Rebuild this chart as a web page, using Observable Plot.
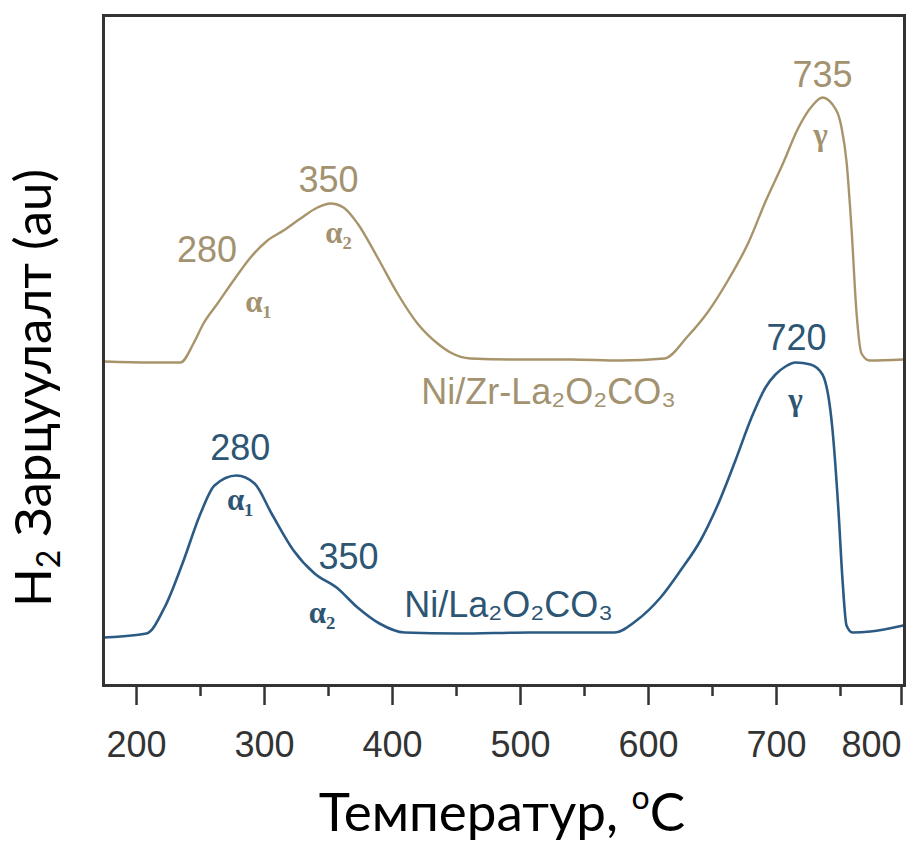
<!DOCTYPE html>
<html>
<head>
<meta charset="utf-8">
<script src="https://cdn.jsdelivr.net/npm/d3@7"></script>
<script src="https://cdn.jsdelivr.net/npm/@observablehq/plot@0.6"></script>
<style>
  html, body { margin: 0; padding: 0; background: #fff; }
  #chart { width: 908px; height: 845px; }
</style>
</head>
<body>
<div id="chart"></div>
<script>
// ---- data (temperature °C, H2 consumption in arbitrary units) ----
const tempZr = [175, 210.9, 234.4, 244.5, 252.3, 263.3, 275.8, 289.1, 302.3, 314.8, 328.1, 341.4, 351.6, 361.7, 372.7, 388.3, 403.9, 419.5, 435.2, 445.3, 460.9, 500, 539.1, 578.1, 612.5, 630.5, 646.1, 662.5, 678.1, 691.4, 704.7, 717.2, 728.1, 735.9, 743.8, 750.8, 754.7, 758.6, 762.5, 766.4, 772.7, 799];
const auZr   = [3.24, 3.23, 3.23, 3.42, 3.62, 3.82, 4.05, 4.28, 4.45, 4.55, 4.67, 4.78, 4.82, 4.78, 4.62, 4.28, 3.92, 3.62, 3.42, 3.33, 3.27, 3.26, 3.26, 3.25, 3.27, 3.49, 3.73, 4.06, 4.43, 4.84, 5.21, 5.58, 5.80, 5.88, 5.81, 5.58, 5.24, 4.57, 3.73, 3.32, 3.25, 3.26];

const tempLa = [175, 207.8, 221.9, 235.9, 250, 260.9, 278.1, 292.2, 305.5, 322.7, 339.1, 356.3, 372.7, 389.8, 409.4, 450.8, 507, 573.4, 590.6, 609.4, 625, 640.6, 653.9, 667.9, 680.5, 691.4, 699.2, 707, 714.8, 726.6, 735.9, 743.8, 748.4, 751.6, 754.7, 759.4, 773.4, 799];
const auLa   = [0.48, 0.52, 0.78, 1.22, 1.72, 2.00, 2.10, 2.02, 1.72, 1.35, 1.12, 0.98, 0.78, 0.62, 0.53, 0.52, 0.53, 0.53, 0.65, 0.88, 1.15, 1.45, 1.80, 2.25, 2.68, 2.98, 3.11, 3.19, 3.23, 3.21, 3.11, 2.55, 1.75, 1.05, 0.60, 0.53, 0.54, 0.60];

const xTicks = [200, 300, 400, 500, 600, 700];
const xLastTick = [800];
const xMinorTicks = [250, 350, 450, 550, 650, 750];

// annotation labels (anchored in data coordinates)
const numLabelsZr = [
  {t: 255,   v: 4.35, text: "280"},
  {t: 350,   v: 5.05, text: "350"},
  {t: 736,   v: 6.10, text: "735"}
];
const greekLabelsZr = [
  {t: 295.3, v: 3.83, text: "α₁"},
  {t: 357.8, v: 4.52, text: "α₂"},
  {t: 734.4, v: 5.50, text: "γ"}
];
const nameZr = [{t: 521.9, v: 2.93, text: "Ni/Zr-La₂O₂CO₃"}];

const numLabelsLa = [
  {t: 281,   v: 2.37, text: "280"},
  {t: 365.6, v: 1.28, text: "350"},
  {t: 715.6, v: 3.47, text: "720"}
];
const greekLabelsLa = [
  {t: 281,   v: 1.85, text: "α₁"},
  {t: 345,   v: 0.72, text: "α₂"},
  {t: 714.8, v: 2.85, text: "γ"}
];
const nameLa = [{t: 490.6, v: 0.80, text: "Ni/La₂O₂CO₃"}];

const GOLD = "#a8946a";
const GOLD_TXT = "#a39270";
const BLUE = "#2b5b84";
const BLUE_TXT = "#2d5574";
const SANS = "'Liberation Sans', Arial, sans-serif";
const SERIF = "'Liberation Serif', 'DejaVu Serif', serif";

const zr = tempZr.map((t, i) => ({t, v: auZr[i]}));
const la = tempLa.map((t, i) => ({t, v: auLa[i]}));

const plot = Plot.plot({
  width: 908,
  height: 845,
  marginLeft: 103,
  marginRight: 4,
  marginTop: 15,
  marginBottom: 160,
  style: {fontFamily: SANS, background: "#fff"},
  x: {domain: [174.2, 800]},
  y: {domain: [0, 6.7]},
  marks: [
    Plot.line(zr, {x: "t", y: "v", stroke: GOLD, strokeWidth: 2.4, curve: "monotone-x"}),
    Plot.line(la, {x: "t", y: "v", stroke: BLUE, strokeWidth: 2.6, curve: "monotone-x"}),
    Plot.text(numLabelsZr, {x: "t", y: "v", text: "text", fill: GOLD_TXT, fontSize: 36, fontFamily: SANS}),
    Plot.text(greekLabelsZr, {x: "t", y: "v", text: "text", fill: GOLD_TXT, fontSize: 31, fontFamily: SERIF, fontWeight: "bold"}),
    Plot.text(nameZr, {x: "t", y: "v", text: "text", fill: GOLD_TXT, fontSize: 36, fontFamily: SANS}),
    Plot.text(numLabelsLa, {x: "t", y: "v", text: "text", fill: BLUE_TXT, fontSize: 36, fontFamily: SANS}),
    Plot.text(greekLabelsLa, {x: "t", y: "v", text: "text", fill: BLUE_TXT, fontSize: 31, fontFamily: SERIF, fontWeight: "bold"}),
    Plot.text(nameLa, {x: "t", y: "v", text: "text", fill: BLUE_TXT, fontSize: 36, fontFamily: SANS}),
    Plot.axisX({ticks: xTicks, tickSize: 20, tickPadding: 26, strokeWidth: 2.5, color: "#333", fontSize: 36, label: null, tickFormat: d => String(d)}),
    Plot.axisX({ticks: xLastTick, tickSize: 20, tickPadding: 26, strokeWidth: 2.5, color: "#333", fontSize: 36, label: null, textAnchor: "end", dx: -3, tickFormat: d => String(d)}),
    Plot.axisX({ticks: xMinorTicks, tickSize: 11, strokeWidth: 2.5, color: "#333", text: null, label: null}),
    Plot.axisY({ticks: [], label: null}),
    Plot.frame({stroke: "#333", strokeWidth: 3})
  ]
});

document.getElementById("chart").appendChild(plot);

// axis titles
const svg = d3.select(plot);
const TITLE_FONT = "Lato, 'Open Sans', 'Noto Sans', sans-serif";
const yt = svg.append("text")
  .attr("transform", "translate(51,388) rotate(-90)")
  .attr("text-anchor", "middle")
  .attr("font-family", TITLE_FONT)
  .attr("font-size", 51)
  .attr("fill", "#000");
yt.append("tspan").text("H");
yt.append("tspan").attr("font-size", 32).attr("dy", 9).text("2");
yt.append("tspan").attr("dy", -9).text(" Зарцуулалт (au)");

const xt = svg.append("text")
  .attr("x", 502)
  .attr("y", 831)
  .attr("text-anchor", "middle")
  .attr("font-family", TITLE_FONT)
  .attr("font-size", 53)
  .attr("fill", "#000");
xt.append("tspan").text("Температур, ");
xt.append("tspan").attr("font-size", 32).attr("dy", -22).text("o");
xt.append("tspan").attr("dy", 22).text("C");
</script>
</body>
</html>
